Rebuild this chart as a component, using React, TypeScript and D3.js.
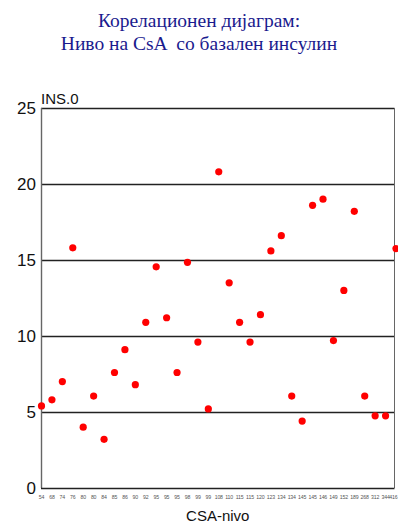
import React, { useEffect, useRef } from 'react';
import * as d3 from 'd3';

const csaLabels = ['54', '68', '74', '76', '80', '80', '84', '85', '86', '90', '92', '95', '95', '95', '98', '99', '99', '108', '110', '115', '115', '120', '123', '134', '134', '145', '145', '146', '149', '152', '189', '268', '312', '344', '416'];
const insValues = [5.4, 5.8, 7.0, 15.8, 4.0, 6.05, 3.2, 7.6, 9.1, 6.8, 10.9, 14.55, 11.2, 7.6, 14.85, 9.6, 5.2, 20.8, 13.5, 10.9, 9.6, 11.4, 15.6, 16.6, 6.05, 4.4, 18.6, 19.0, 9.7, 13.0, 18.2, 6.05, 4.75, 4.75, 15.75];
const yTicks = [0, 5, 10, 15, 20, 25];
const titleLines = ['Корелационен дијаграм:', 'Ниво на CsA  со базален инсулин'];

function App() {
    const ref = useRef<SVGSVGElement>(null);
    const width = 398;
    const height = 524;
    const margin = { top: 108, right: 4, bottom: 36, left: 41 };

    useEffect(() => {
        const svg = d3.select(ref.current);
        svg.selectAll('*').remove();

        const xScale = d3
            .scalePoint<number>()
            .domain(csaLabels.map((_, i) => i))
            .range([margin.left + 0.5, width - 2]);
        const yScale = d3
            .scaleLinear()
            .domain([0, 25])
            .range([height - margin.bottom, margin.top]);

        const right = width - margin.right + 0.5;

        // title
        svg.append('g')
            .selectAll('text')
            .data(titleLines)
            .join('text')
            .attr('x', 199)
            .attr('y', (d, i) => 27 + i * 23)
            .attr('text-anchor', 'middle')
            .attr('font-family', '"Liberation Serif", "DejaVu Serif", serif')
            .attr('font-size', 19.5)
            .attr('fill', '#1a1a8e')
            .style('white-space', 'pre')
            .text((d) => d);

        // gridlines
        svg.append('g')
            .selectAll('line')
            .data(yTicks.filter((t) => t > 0))
            .join('line')
            .attr('x1', margin.left)
            .attr('x2', right)
            .attr('y1', (d) => Math.round(yScale(d)) + 0.5)
            .attr('y2', (d) => Math.round(yScale(d)) + 0.5)
            .attr('stroke', '#222')
            .attr('stroke-width', 1.4);

        // frame
        svg.append('line')
            .attr('x1', margin.left + 0.5).attr('x2', margin.left + 0.5)
            .attr('y1', yScale(25)).attr('y2', yScale(0))
            .attr('stroke', '#666').attr('stroke-width', 1.4);
        svg.append('line')
            .attr('x1', right).attr('x2', right)
            .attr('y1', yScale(25)).attr('y2', yScale(0))
            .attr('stroke', '#666').attr('stroke-width', 1);
        svg.append('line')
            .attr('x1', margin.left).attr('x2', right)
            .attr('y1', Math.round(yScale(0)) + 0.5).attr('y2', Math.round(yScale(0)) + 0.5)
            .attr('stroke', '#222').attr('stroke-width', 1.4);

        // y tick labels
        svg.append('g')
            .selectAll('text')
            .data(yTicks)
            .join('text')
            .attr('x', 36)
            .attr('y', (d) => yScale(d) + 6)
            .attr('text-anchor', 'end')
            .attr('font-family', '"Liberation Sans", Arial, sans-serif')
            .attr('font-size', 17)
            .attr('fill', '#111')
            .text((d) => d);

        svg.append('text')
            .attr('x', margin.left)
            .attr('y', margin.top - 4)
            .attr('font-family', '"Liberation Sans", Arial, sans-serif')
            .attr('font-size', 15)
            .attr('fill', '#111')
            .text('INS.0');

        // x tick labels
        const last = csaLabels.length - 1;
        svg.append('g')
            .selectAll('text')
            .data(csaLabels)
            .join('text')
            .attr('x', (d, i) => (i === last ? width - 0.5 : (xScale(i) as number)))
            .attr('y', 499)
            .attr('text-anchor', (d, i) => (i === last ? 'end' : 'middle'))
            .attr('font-family', '"Liberation Sans", Arial, sans-serif')
            .attr('font-size', 5.2)
            .attr('letter-spacing', -0.15)
            .attr('fill', '#555')
            .text((d) => d);

        svg.append('text')
            .attr('x', (margin.left + right) / 2)
            .attr('y', 521)
            .attr('text-anchor', 'middle')
            .attr('font-family', '"Liberation Sans", Arial, sans-serif')
            .attr('font-size', 15)
            .attr('fill', '#111')
            .text('CSA-nivo');

        // points
        svg.append('g')
            .selectAll('circle')
            .data(insValues)
            .join('circle')
            .attr('cx', (d, i) => xScale(i) as number)
            .attr('cy', (d) => yScale(d))
            .attr('r', 3.6)
            .attr('fill', '#ff0000');
    }, []);

    return (
        <svg
            ref={ref}
            width={width}
            height={height}
            style={{ position: 'absolute', left: 0, top: 0, background: '#fff' }}
        />
    );
}

export default App;
